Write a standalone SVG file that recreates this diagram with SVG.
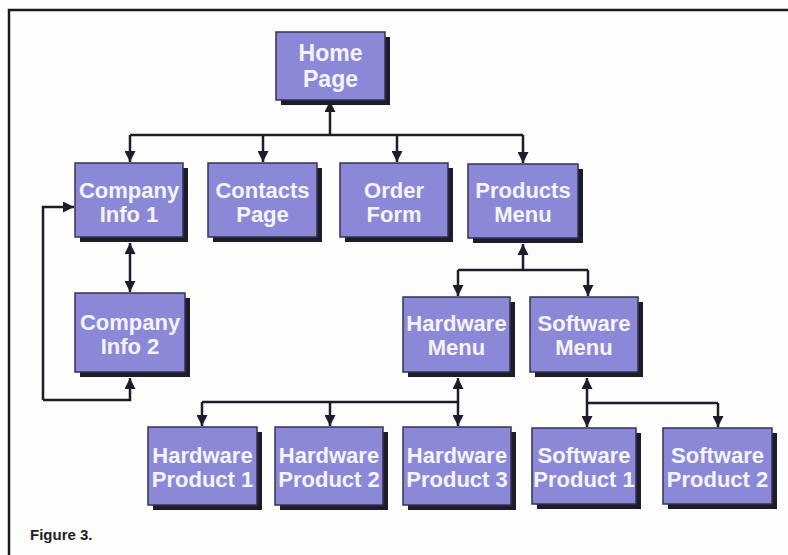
<svg xmlns="http://www.w3.org/2000/svg" width="788" height="555" viewBox="0 0 788 555">
<defs>
<style>
.shadow{fill:#1d1c2c}
.box{fill:#8c88d8;stroke:#34324e;stroke-width:1.5}
.lbl{font-family:"Liberation Sans",Arial,sans-serif;font-size:22px;font-weight:bold;fill:#f4f4fa;text-anchor:middle}
.con{fill:none;stroke:#1c1c2c;stroke-width:2.5}
.cap{font-family:"Liberation Sans",Arial,sans-serif;font-size:15px;font-weight:bold;fill:#222}
</style>
<marker id="ah" viewBox="0 0 10 10" refX="10" refY="5" markerWidth="11" markerHeight="11" markerUnits="userSpaceOnUse" orient="auto-start-reverse">
<path d="M0,0 L10,5 L0,10 Z" fill="#1c1c2c"/>
</marker>
</defs>
<rect width="788" height="555" fill="#fdfdfb"/>
<path d="M9,555 V10 H788" fill="none" stroke="#1a1a1a" stroke-width="2.5"/>

<g id="connectors">
<path class="con" d="M330,135 V101" marker-end="url(#ah)"/>
<path class="con" d="M130,135 H523"/>
<path class="con" d="M130,135 V162" marker-end="url(#ah)"/>
<path class="con" d="M263,135 V162" marker-end="url(#ah)"/>
<path class="con" d="M397,135 V162" marker-end="url(#ah)"/>
<path class="con" d="M523,135 V163" marker-end="url(#ah)"/>
<path class="con" d="M130,243 V292" marker-start="url(#ah)" marker-end="url(#ah)"/>
<path class="con" d="M43,400 H130 V378" marker-end="url(#ah)"/>
<path class="con" d="M43,400 V207 H74" marker-end="url(#ah)"/>
<path class="con" d="M523,270 V244" marker-end="url(#ah)"/>
<path class="con" d="M458,270 H588"/>
<path class="con" d="M458,270 V296" marker-end="url(#ah)"/>
<path class="con" d="M588,270 V296" marker-end="url(#ah)"/>
<path class="con" d="M458,402 V378" marker-end="url(#ah)"/>
<path class="con" d="M202,402 H458"/>
<path class="con" d="M202,402 V426" marker-end="url(#ah)"/>
<path class="con" d="M330,402 V426" marker-end="url(#ah)"/>
<path class="con" d="M458,402 V426" marker-end="url(#ah)"/>
<path class="con" d="M587,403 V378" marker-end="url(#ah)"/>
<path class="con" d="M587,403 H718"/>
<path class="con" d="M587,403 V427" marker-end="url(#ah)"/>
<path class="con" d="M718,403 V427" marker-end="url(#ah)"/>
</g>

<g id="home-page">
<rect class="shadow" x="281" y="37" width="109" height="68"/>
<rect class="box" x="276" y="32" width="109" height="68"/>
<text class="lbl" x="330.5" y="61" style="font-size:23px">Home</text>
<text class="lbl" x="330.5" y="87" style="font-size:23px">Page</text>
</g>

<g id="company-info-1">
<rect class="shadow" x="80" y="168" width="108" height="74"/>
<rect class="box" x="75" y="163" width="108" height="74"/>
<text class="lbl" x="129" y="198">Company</text>
<text class="lbl" x="129" y="222">Info 1</text>
</g>

<g id="contacts-page">
<rect class="shadow" x="213" y="168" width="109" height="74"/>
<rect class="box" x="208" y="163" width="109" height="74"/>
<text class="lbl" x="262.5" y="198">Contacts</text>
<text class="lbl" x="262.5" y="222">Page</text>
</g>

<g id="order-form">
<rect class="shadow" x="345" y="168" width="108" height="74"/>
<rect class="box" x="340" y="163" width="108" height="74"/>
<text class="lbl" x="394" y="198">Order</text>
<text class="lbl" x="394" y="222">Form</text>
</g>

<g id="products-menu">
<rect class="shadow" x="473" y="169" width="110" height="74"/>
<rect class="box" x="468" y="164" width="110" height="74"/>
<text class="lbl" x="523" y="198">Products</text>
<text class="lbl" x="523" y="222">Menu</text>
</g>

<g id="company-info-2">
<rect class="shadow" x="80" y="298" width="110" height="79"/>
<rect class="box" x="75" y="293" width="110" height="79"/>
<text class="lbl" x="130" y="330">Company</text>
<text class="lbl" x="130" y="354">Info 2</text>
</g>

<g id="hardware-menu">
<rect class="shadow" x="408" y="302" width="107" height="75"/>
<rect class="box" x="403" y="297" width="107" height="75"/>
<text class="lbl" x="456.5" y="331">Hardware</text>
<text class="lbl" x="456.5" y="355">Menu</text>
</g>

<g id="software-menu">
<rect class="shadow" x="535" y="302" width="108" height="75"/>
<rect class="box" x="530" y="297" width="108" height="75"/>
<text class="lbl" x="584" y="331">Software</text>
<text class="lbl" x="584" y="355">Menu</text>
</g>

<g id="hardware-product-1">
<rect class="shadow" x="153" y="432" width="109" height="78"/>
<rect class="box" x="148" y="427" width="109" height="78"/>
<text class="lbl" x="202.5" y="463">Hardware</text>
<text class="lbl" x="202.5" y="487">Product 1</text>
</g>

<g id="hardware-product-2">
<rect class="shadow" x="280" y="432" width="108" height="78"/>
<rect class="box" x="275" y="427" width="108" height="78"/>
<text class="lbl" x="329" y="463">Hardware</text>
<text class="lbl" x="329" y="487">Product 2</text>
</g>

<g id="hardware-product-3">
<rect class="shadow" x="408" y="432" width="108" height="78"/>
<rect class="box" x="403" y="427" width="108" height="78"/>
<text class="lbl" x="457" y="463">Hardware</text>
<text class="lbl" x="457" y="487">Product 3</text>
</g>

<g id="software-product-1">
<rect class="shadow" x="537" y="433" width="104" height="76"/>
<rect class="box" x="532" y="428" width="104" height="76"/>
<text class="lbl" x="584" y="463">Software</text>
<text class="lbl" x="584" y="487">Product 1</text>
</g>

<g id="software-product-2">
<rect class="shadow" x="668" y="433" width="109" height="76"/>
<rect class="box" x="663" y="428" width="109" height="76"/>
<text class="lbl" x="717.5" y="463">Software</text>
<text class="lbl" x="717.5" y="487">Product 2</text>
</g>

<text class="cap" x="30" y="540">Figure 3.</text>
</svg>
